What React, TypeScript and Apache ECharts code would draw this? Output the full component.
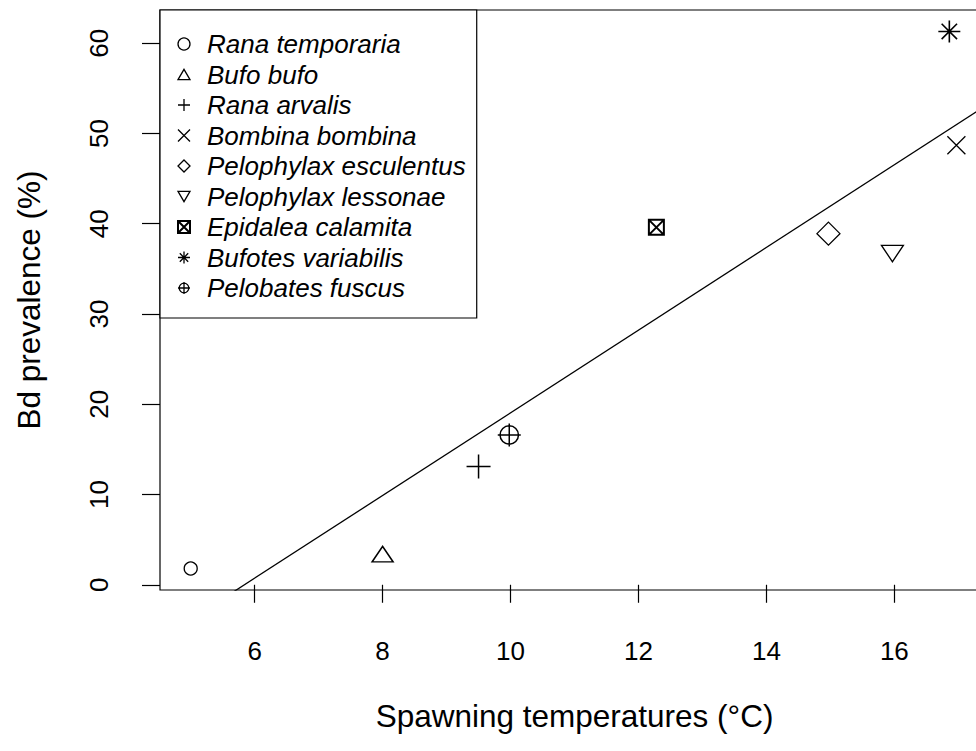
import React, { useEffect, useRef } from "react";
import * as echarts from "echarts";

const speciesNames = [
  "Rana temporaria",
  "Bufo bufo",
  "Rana arvalis",
  "Bombina bombina",
  "Pelophylax esculentus",
  "Pelophylax lessonae",
  "Epidalea calamita",
  "Bufotes variabilis",
  "Pelobates fuscus",
];
const spawningTemp = [5, 8, 9.5, 16.97, 14.97, 15.97, 12.28, 16.86, 9.98];
const bdPrevalence = [1.8, 3.4, 13.1, 48.7, 38.9, 36.7, 39.6, 61.3, 16.6];

const xTicks = [6, 8, 10, 12, 14, 16];
const yTicks = [0, 10, 20, 30, 40, 50, 60];

// regression line end points
const fitLineX = [5.6, 17.5];
const fitLineY = [-1.1, 53.4];

const P_TRI_UP = "path://M5,0 L10,8.66 L0,8.66 Z";
const P_TRI_DOWN = "path://M0,0 L10,0 L5,8.66 Z";
const P_PLUS = "path://M0,5 L10,5 M5,0 L5,10";
const P_CROSS = "path://M0,0 L10,10 M10,0 L0,10";
const P_DIAMOND = "path://M5,0 L10,5 L5,10 L0,5 Z";
const P_SQX = "path://M0,0 L10,0 L10,10 L0,10 Z M0,0 L10,10 M10,0 L0,10";
const P_STAR = "path://M5,0 L5,10 M0,5 L10,5 M1.5,1.5 L8.5,8.5 M8.5,1.5 L1.5,8.5";
const P_CPLUS = "path://M5,0 L5,10 M0,5 L10,5 M9,5 A4,4 0 1 1 1,5 A4,4 0 1 1 9,5 Z";

const symbols = ["circle", P_TRI_UP, P_PLUS, P_CROSS, P_DIAMOND, P_TRI_DOWN, P_SQX, P_STAR, P_CPLUS];
const symbolSizes = [13, [21, 18], 24, 18, 23, [22, 19], 15, 22, 23];
const borderWidths = [1.3, 1.5, 1.5, 1.3, 1.3, 1.3, 2, 1.6, 1.5];

const FONT = "'Liberation Sans', Arial, sans-serif";

export default function App() {
  const ref = useRef<HTMLDivElement>(null);
  useEffect(() => {
    if (!ref.current) return;
    const chart = echarts.init(ref.current, null, { renderer: "svg" });
    const scatterSeries = speciesNames.map((name, i) => ({
      type: "scatter",
      name,
      data: [[spawningTemp[i], bdPrevalence[i]]],
      symbol: symbols[i],
      symbolSize: symbolSizes[i],
      symbolKeepAspect: true,
      itemStyle: {
        color: "rgba(0,0,0,0)",
        borderColor: "#000",
        borderWidth: borderWidths[i],
        opacity: 1,
      },
      emphasis: { disabled: true },
      z: 3,
    }));
    chart.setOption({
      animation: false,
      backgroundColor: "#fff",
      textStyle: { fontFamily: FONT },
      grid: {
        left: 160,
        top: 10,
        width: 829,
        height: 580,
        outerBoundsMode: "none",
        containLabel: false,
        show: true,
        borderColor: "#000",
        borderWidth: 1.2,
        backgroundColor: "transparent",
      },
      legend: {
        orient: "vertical",
        left: 160,
        top: 10,
        padding: [21, 11, 17, 17],
        itemGap: 4.5,
        itemWidth: 12,
        itemHeight: 12,
        backgroundColor: "#fff",
        borderColor: "#000",
        borderWidth: 1.2,
        borderRadius: 0,
        selectedMode: false,
        z: 10,
        data: speciesNames.map((name, i) => ({
          name,
          icon: symbols[i],
          itemStyle: {
            color: "rgba(0,0,0,0)",
            borderColor: "#000",
            borderWidth: i === 6 ? 2 : 1.3,
          },
        })),
        textStyle: {
          fontFamily: FONT,
          fontStyle: "italic",
          fontSize: 26,
          lineHeight: 24,
          color: "#000",
          padding: [0, 0, 0, 12],
        },
      },
      xAxis: {
        type: "value",
        min: 4.52,
        max: 17.48,
        name: "Spawning temperatures (°C)",
        nameLocation: "middle",
        nameGap: 110,
        nameTextStyle: { fontFamily: FONT, fontSize: 31.5, color: "#000" },
        axisLine: { show: false },
        splitLine: { show: false },
        axisTick: {
          show: true,
          inside: false,
          length: 18,
          customValues: xTicks,
          lineStyle: { color: "#000", width: 1.2 },
        },
        axisLabel: {
          customValues: xTicks,
          margin: 48,
          fontSize: 26,
          color: "#000",
          fontFamily: FONT,
        },
      },
      yAxis: {
        type: "value",
        min: -0.58,
        max: 63.68,
        name: "Bd prevalence (%)",
        nameLocation: "middle",
        nameGap: 115,
        nameRotate: 90,
        nameTextStyle: { fontFamily: FONT, fontSize: 31.5, color: "#000" },
        axisLine: { show: false },
        splitLine: { show: false },
        axisTick: {
          show: true,
          inside: false,
          length: 18,
          customValues: yTicks,
          lineStyle: { color: "#000", width: 1.2 },
        },
        axisLabel: {
          customValues: yTicks,
          rotate: 90,
          margin: 48,
          fontSize: 26,
          color: "#000",
          fontFamily: FONT,
        },
      },
      series: [
        ...scatterSeries,
        {
          type: "line",
          name: "fit",
          data: fitLineX.map((x, i) => [x, fitLineY[i]]),
          showSymbol: false,
          symbol: "none",
          clip: true,
          lineStyle: { color: "#000", width: 1.3 },
          emphasis: { disabled: true },
          z: 2,
        },
      ],
    });
    return () => chart.dispose();
  }, []);
  return (
    <div
      ref={ref}
      style={{ position: "absolute", left: 0, top: 0, width: 976, height: 751 }}
    />
  );
}
